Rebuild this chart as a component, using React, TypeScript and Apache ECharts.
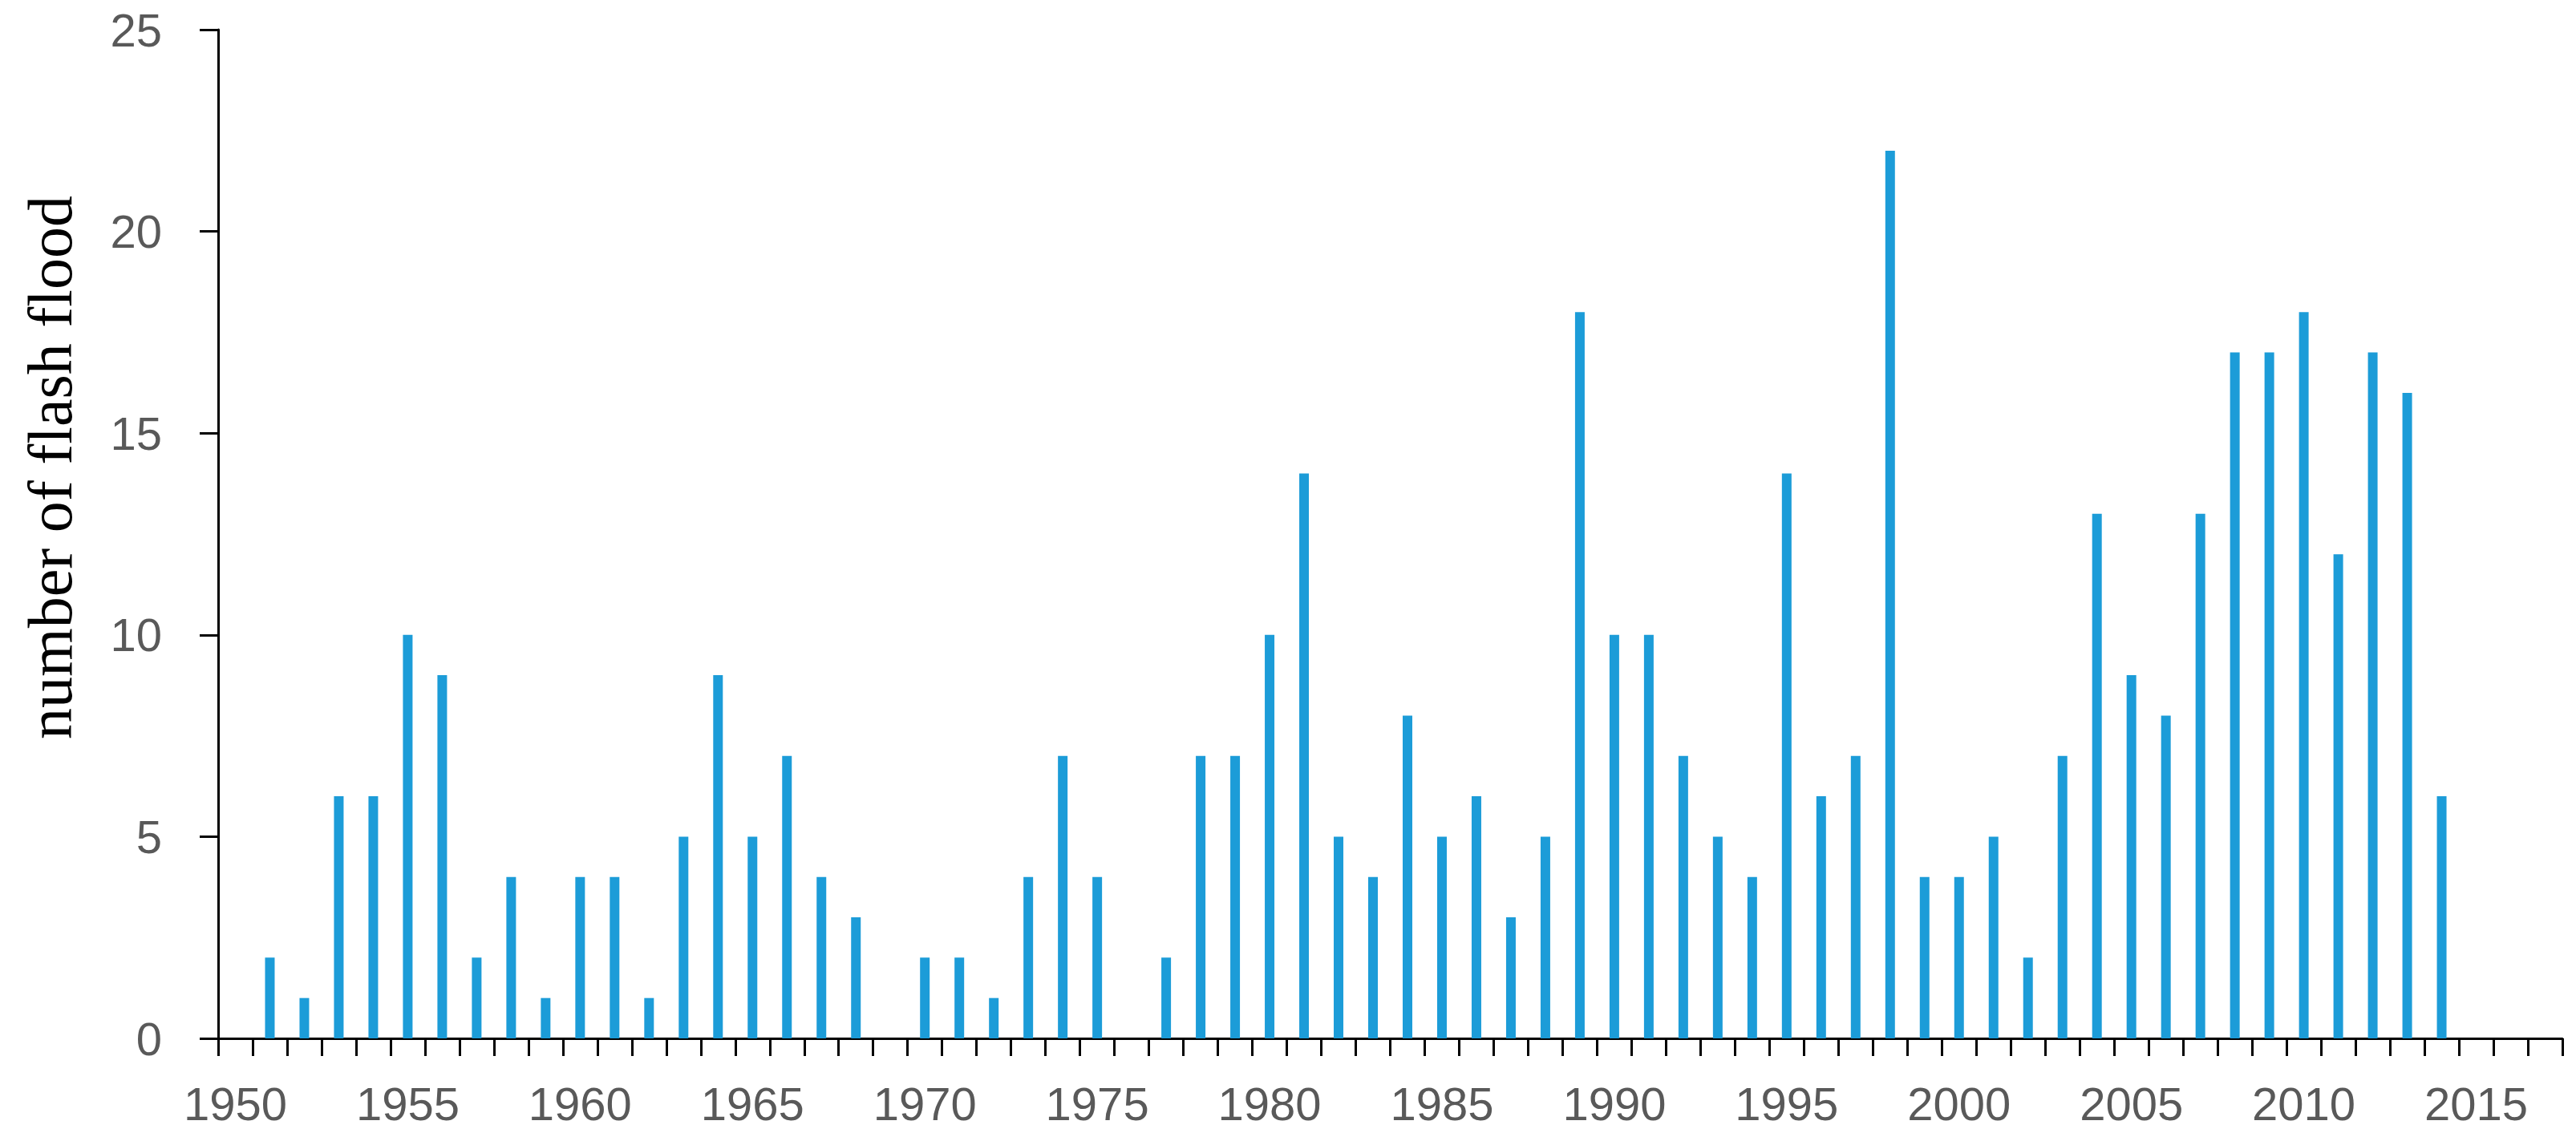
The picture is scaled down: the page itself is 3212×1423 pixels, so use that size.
import React, { useEffect, useRef } from "react";
import * as echarts from "echarts";

const years: string[] = [];
for (let y = 1950; y <= 2017; y++) years.push(String(y));

const floods: number[] = [
  0, 2, 1, 6, 6, 10, 9, 2, 4, 1,
  4, 4, 1, 5, 9, 5, 7, 4, 3, 0,
  2, 2, 1, 4, 7, 4, 0, 2, 7, 7,
  10, 14, 5, 4, 8, 5, 6, 3, 5, 18,
  10, 10, 7, 5, 4, 14, 6, 7, 22, 4,
  4, 5, 2, 7, 13, 9, 8, 13, 17, 17,
  18, 12, 17, 16, 6, 0, 0, 0,
];

const yTitle = "number of flash flood";

export default function App() {
  const ref = useRef<HTMLDivElement>(null);
  useEffect(() => {
    if (!ref.current) return;
    const chart = echarts.init(ref.current, null, { renderer: "svg" });
    chart.setOption({
      animation: false,
      backgroundColor: "#ffffff",
      grid: { left: 272, right: 17, top: 37, bottom: 128, containLabel: false },
      xAxis: {
        type: "category",
        data: years,
        boundaryGap: true,
        axisLine: { show: true, lineStyle: { color: "#000", width: 3 } },
        axisTick: { show: true, interval: 0, length: 22, lineStyle: { color: "#000", width: 3 } },
        axisLabel: {
          interval: 4,
          margin: 52,
          fontFamily: "Liberation Sans",
          fontSize: 58,
          color: "#595959",
        },
        splitLine: { show: false },
      },
      yAxis: {
        type: "value",
        min: 0,
        max: 25,
        interval: 5,
        axisLine: { show: true, lineStyle: { color: "#000", width: 3 } },
        axisTick: { show: true, length: 23, lineStyle: { color: "#000", width: 3 } },
        axisLabel: {
          margin: 70,
          fontFamily: "Liberation Sans",
          fontSize: 58,
          color: "#595959",
        },
        splitLine: { show: false },
      },
      graphic: [
        {
          type: "text",
          x: 62,
          y: 583,
          rotation: Math.PI / 2,
          style: {
            text: yTitle,
            fontFamily: "Liberation Serif",
            fontSize: 78,
            fill: "#000",
            textAlign: "center",
            textVerticalAlign: "middle",
          },
        },
      ],
      series: [
        {
          type: "bar",
          data: floods,
          barWidth: 12,
          itemStyle: { color: "#1c9cd8" },
        },
      ],
    });
    return () => chart.dispose();
  }, []);
  return (
    <div
      ref={ref}
      style={{ position: "fixed", left: 0, top: 0, width: 3212, height: 1423, background: "#fff" }}
    />
  );
}
